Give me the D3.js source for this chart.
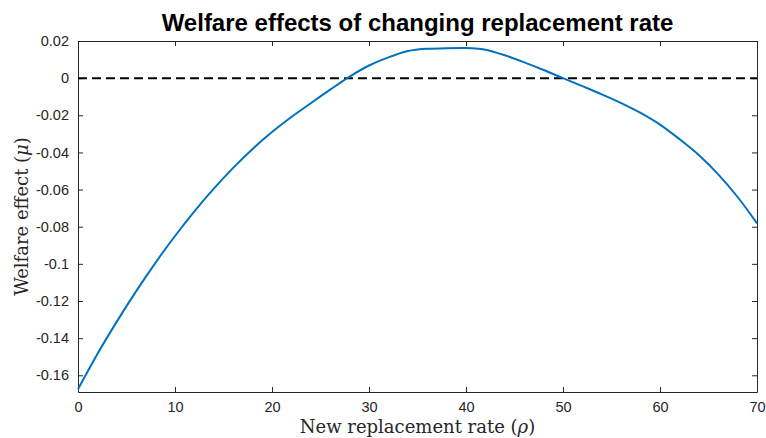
<!DOCTYPE html>
<html>
<head>
<meta charset="utf-8">
<script src="https://cdn.jsdelivr.net/npm/d3@7"></script>
<style>
  body { margin: 0; background: #fff; }
  svg { display: block; }
</style>
</head>
<body>
<div id="chart"></div>
<script>
// replacement rate (x) and welfare effect (y)
const rates = [0, 2, 4, 6, 8, 10, 12, 14, 16, 18, 20, 22, 24, 26, 28, 30, 32, 34, 35, 36, 38, 40,
  41, 42, 44, 46, 48, 50, 52, 54, 56, 58, 60, 62, 64, 66, 68, 70];
const welfare = [-0.1675, -0.1485, -0.1311, -0.1147, -0.0993, -0.0850, -0.0717, -0.0595, -0.0483,
  -0.0381, -0.0290, -0.0209, -0.0135, -0.0062, 0.0008, 0.0068, 0.0112, 0.0146, 0.0154, 0.0158,
  0.0161, 0.0162, 0.0160, 0.0153, 0.0123, 0.0085, 0.0044, 0.0000, -0.0043, -0.0087, -0.0134,
  -0.0187, -0.0250, -0.0328, -0.0414, -0.0518, -0.0640, -0.0782];
const xTicks = [0, 10, 20, 30, 40, 50, 60, 70];
const yTicks = [0.02, 0, -0.02, -0.04, -0.06, -0.08, -0.1, -0.12, -0.14, -0.16];

const width = 766, height = 438;
const margin = { top: 41, right: 9, bottom: 46, left: 78 };

const svg = d3.select("#chart").append("svg")
  .attr("width", width)
  .attr("height", height);

const x = d3.scaleLinear().domain([0, 70]).range([margin.left, width - margin.right]);
const y = d3.scaleLinear().domain([-0.169, 0.02]).range([height - margin.bottom, margin.top]);

const axisColor = "#262626";
// plain hyphen for negatives, like the original
const tickFmt = d => String(+d.toFixed(2));

// axes (ticks inside, mirrored like a boxed plot)
const gx = svg.append("g").attr("transform", `translate(0,${y.range()[0]})`)
  .call(d3.axisBottom(x).tickValues(xTicks).tickSizeInner(-5).tickSizeOuter(0).tickPadding(10).tickFormat(tickFmt));
const gxTop = svg.append("g").attr("transform", `translate(0,${y.range()[1]})`)
  .call(d3.axisTop(x).tickValues(xTicks).tickSizeInner(-5).tickSizeOuter(0).tickFormat(""));
const gy = svg.append("g").attr("transform", `translate(${x.range()[0]},0)`)
  .call(d3.axisLeft(y).tickValues(yTicks).tickSizeInner(-5).tickSizeOuter(0).tickPadding(9).tickFormat(tickFmt));
const gyRight = svg.append("g").attr("transform", `translate(${x.range()[1]},0)`)
  .call(d3.axisRight(y).tickValues(yTicks).tickSizeInner(-5).tickSizeOuter(0).tickFormat(""));

[gx, gxTop, gy, gyRight].forEach(g => {
  g.selectAll("path").attr("stroke", axisColor).attr("stroke-width", 1);
  g.selectAll("line").attr("stroke", axisColor).attr("stroke-width", 1);
  g.selectAll("text")
    .attr("fill", axisColor)
    .style("font-family", "Liberation Sans, Arial, sans-serif")
    .style("font-size", "14.5px");
});

// zero reference line
svg.append("line")
  .attr("x1", x(0)).attr("x2", x(70))
  .attr("y1", y(0)).attr("y2", y(0))
  .attr("stroke", "#000")
  .attr("stroke-width", 2)
  .attr("stroke-dasharray", "9,5");

// welfare curve
const line = d3.line()
  .x((d, i) => x(rates[i]))
  .y(d => y(d))
  .curve(d3.curveCatmullRom.alpha(0.5));

svg.append("path")
  .datum(welfare)
  .attr("fill", "none")
  .attr("stroke", "#0072BD")
  .attr("stroke-width", 2)
  .attr("d", line);

// title
svg.append("text")
  .attr("x", (x.range()[0] + x.range()[1]) / 2)
  .attr("y", 31)
  .attr("text-anchor", "middle")
  .style("font-family", "Liberation Sans, Arial, sans-serif")
  .style("font-weight", "bold")
  .style("font-size", "24px")
  .attr("fill", "#000")
  .text("Welfare effects of changing replacement rate");

// axis labels
svg.append("text")
  .attr("x", (x.range()[0] + x.range()[1]) / 2)
  .attr("y", 433)
  .attr("text-anchor", "middle")
  .style("font-family", "DejaVu Serif, Liberation Serif, serif")
  .style("font-size", "18px")
  .attr("fill", axisColor)
  .html('New replacement rate (<tspan font-style="italic">ρ</tspan>)');

svg.append("text")
  .attr("transform", `translate(28,${(y.range()[0] + y.range()[1]) / 2}) rotate(-90)`)
  .attr("text-anchor", "middle")
  .style("font-family", "DejaVu Serif, Liberation Serif, serif")
  .style("font-size", "18px")
  .attr("fill", axisColor)
  .html('Welfare effect (<tspan font-style="italic">μ</tspan>)');
</script>
</body>
</html>
